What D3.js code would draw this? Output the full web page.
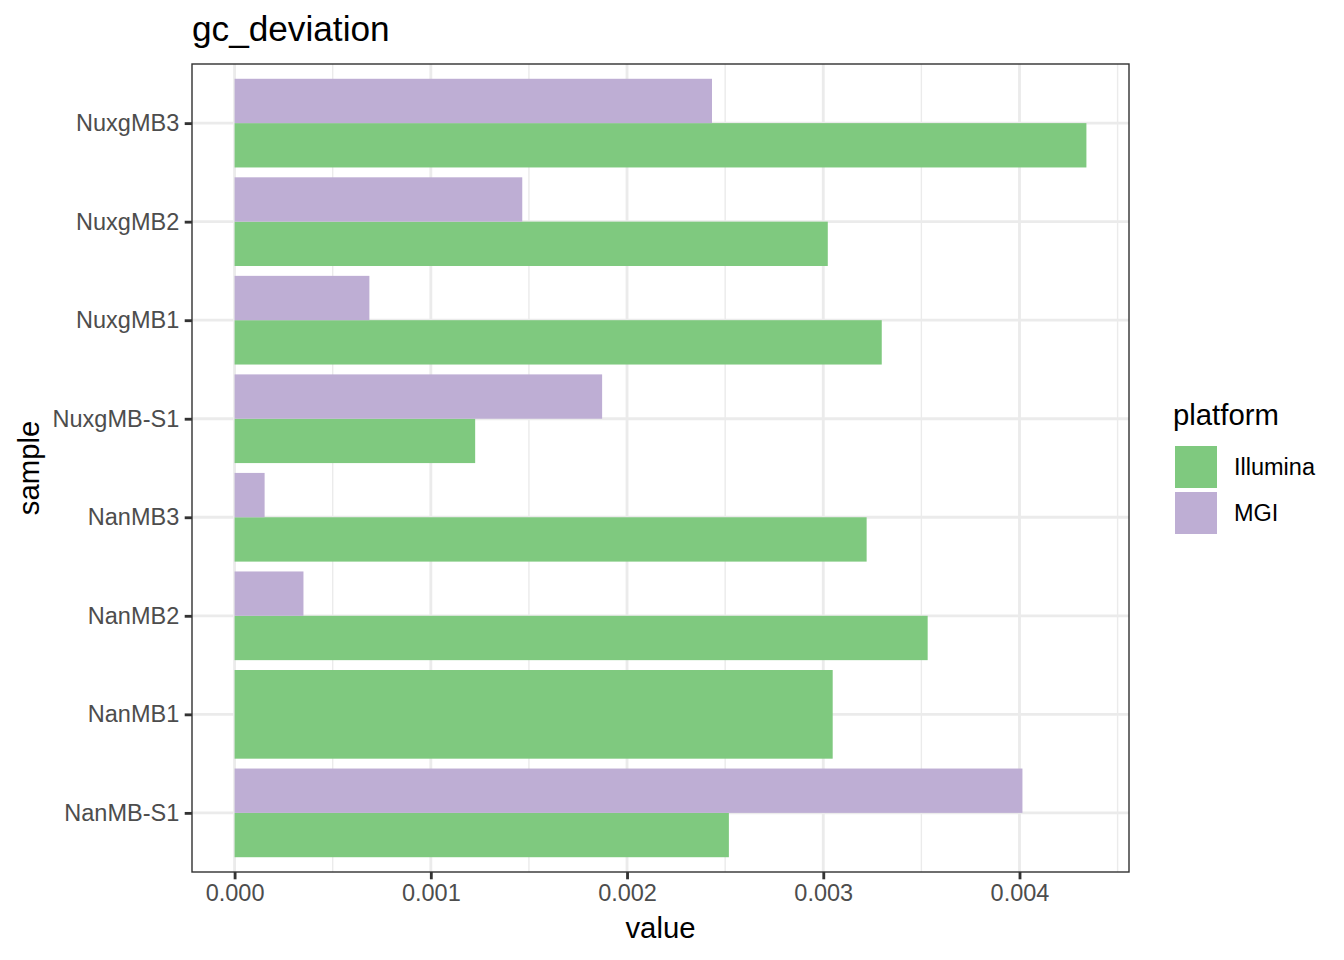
<!DOCTYPE html>
<html><head><meta charset="utf-8">
<script src="https://cdn.jsdelivr.net/npm/d3@7"></script>
<style>body{margin:0;background:#fff}svg{display:block;font-family:"Liberation Sans",Arial,sans-serif}</style>
</head><body><svg id="c" width="1344" height="960"></svg>
<script>
const samples = ["NanMB-S1","NanMB1","NanMB2","NanMB3","NuxgMB-S1","NuxgMB1","NuxgMB2","NuxgMB3"];
const platforms = ["Illumina","MGI"];
const illuminaValues = [0.002519, 0.003048, 0.003532, 0.003221, 0.001226, 0.003298, 0.003023, 0.004341];
const mgiValues = [0.004015, null, 0.000351, 0.000153, 0.001873, 0.000687, 0.001466, 0.002433];
const xTicks = [0, 0.001, 0.002, 0.003, 0.004];
const xMinor = [0.0005, 0.0015, 0.0025, 0.0035, 0.0045];
const colors = {Illumina:"#7FC97F", MGI:"#BEAED4"};

const svg = d3.select("#c");
const P = {l:192, r:1129, t:64, b:872};
const maxV = d3.max(illuminaValues.concat(mgiValues.filter(v=>v!=null)));
const x = d3.scaleLinear().domain([-0.05*maxV, 1.05*maxV]).range([P.l, P.r]);
const y = d3.scalePoint().domain(samples).range([P.b, P.t]).padding(0.6);
const step = y.step();

const g = svg.append("g");
g.append("rect").attr("x",P.l).attr("y",P.t).attr("width",P.r-P.l).attr("height",P.b-P.t).attr("fill","#fff");
// grid
g.selectAll(".mn").data(xMinor).join("line").attr("x1",d=>x(d)).attr("x2",d=>x(d)).attr("y1",P.t).attr("y2",P.b).attr("stroke","#EBEBEB").attr("stroke-width",1.42);
g.selectAll(".mj").data(xTicks).join("line").attr("x1",d=>x(d)).attr("x2",d=>x(d)).attr("y1",P.t).attr("y2",P.b).attr("stroke","#EBEBEB").attr("stroke-width",2.84);
g.selectAll(".hy").data(samples).join("line").attr("x1",P.l).attr("x2",P.r).attr("y1",d=>y(d)).attr("y2",d=>y(d)).attr("stroke","#EBEBEB").attr("stroke-width",2.84);

// bars
const rows = [];
samples.forEach((s,i)=>{
  const present = [];
  if (illuminaValues[i]!=null) present.push({p:"Illumina", v:illuminaValues[i]});
  if (mgiValues[i]!=null) present.push({p:"MGI", v:mgiValues[i]});
  const total = 0.9*step, w = total/present.length;
  present.forEach((d,k)=>{
    // first group lowest
    const yBottom = y(s) + total/2 - k*w;
    rows.push({s, p:d.p, v:d.v, y0:yBottom - w, h:w});
  });
});
g.selectAll(".bar").data(rows).join("rect")
  .attr("x",x(0)).attr("y",d=>d.y0).attr("width",d=>x(d.v)-x(0)).attr("height",d=>d.h)
  .attr("fill",d=>colors[d.p]);

// border
g.append("rect").attr("x",P.l).attr("y",P.t).attr("width",P.r-P.l).attr("height",P.b-P.t).attr("fill","none").attr("stroke","#333333").attr("stroke-width",1.42);

// x axis
const xa = svg.append("g").attr("transform",`translate(0,${P.b})`).call(d3.axisBottom(x).tickValues(xTicks).tickFormat(d3.format(".3f")).tickSize(7.3).tickPadding(5.5));
xa.select(".domain").remove();
xa.selectAll("line").attr("stroke","#333333").attr("stroke-width",2.84);
xa.selectAll("text").attr("fill","#4D4D4D").attr("font-size",23.5).attr("font-family","Liberation Sans, Arial, sans-serif");

const ya = svg.append("g").attr("transform",`translate(${P.l},0)`).call(d3.axisLeft(y).tickSize(7.3).tickPadding(5.5));
ya.select(".domain").remove();
ya.selectAll("line").attr("stroke","#333333").attr("stroke-width",2.84);
ya.selectAll("text").attr("fill","#4D4D4D").attr("font-size",23.5).attr("font-family","Liberation Sans, Arial, sans-serif");

// titles
svg.append("text").attr("x",192).attr("y",41).attr("font-size",35.2).attr("fill","#000").text("gc_deviation");
svg.append("text").attr("x",(P.l+P.r)/2).attr("y",938).attr("text-anchor","middle").attr("font-size",29.3).attr("fill","#000").text("value");
svg.append("text").attr("transform",`translate(39,${(P.t+P.b)/2}) rotate(-90)`).attr("text-anchor","middle").attr("font-size",29.3).attr("fill","#000").text("sample");

// legend
const lg = svg.append("g");
lg.append("text").attr("x",1173).attr("y",425).attr("font-size",29.3).attr("fill","#000").text("platform");
platforms.forEach((p,i)=>{
  const ky = 446 + i*46;
  lg.append("rect").attr("x",1175).attr("y",ky).attr("width",42).attr("height",42).attr("fill",colors[p]);
  lg.append("text").attr("x",1234).attr("y",ky+21).attr("dy","0.35em").attr("font-size",23.5).attr("fill","#000").text(p);
});
</script></body></html>
